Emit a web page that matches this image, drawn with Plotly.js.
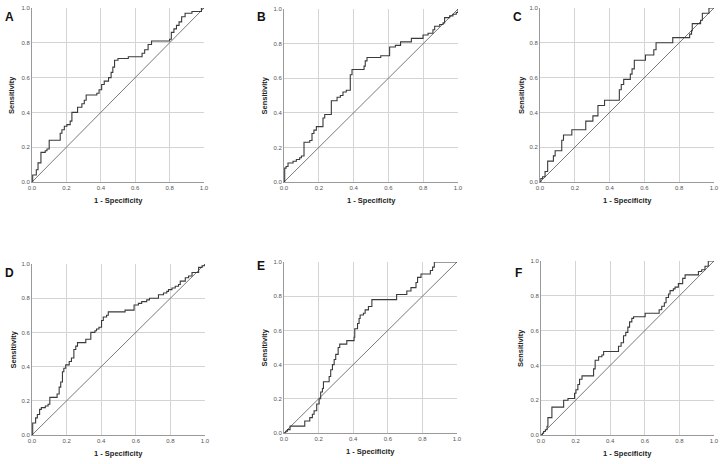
<!DOCTYPE html>
<html>
<head>
<meta charset="utf-8">
<script src="https://cdn.plot.ly/plotly-3.0.1.min.js"></script>
<style>html,body{margin:0;padding:0;background:#fff;}#chart{width:724px;height:464px;}</style>
</head>
<body>
<div id="chart"></div>
<script>
// ---- data (ROC staircase points: 1 - specificity, sensitivity) ----
const panelLabels = ["A", "B", "C", "D", "E", "F"];
const tickVals = [0, 0.2, 0.4, 0.6, 0.8, 1.0];
const tickText = ["0.0", "0.2", "0.4", "0.6", "0.8", "1.0"];
const diagonal = [0, 1];

const A_fpr = [0, 0.004, 0.025, 0.035, 0.052, 0.077, 0.087, 0.10, 0.164, 0.174, 0.188, 0.203, 0.222, 0.232, 0.265, 0.29, 0.304, 0.315, 0.377, 0.39, 0.405, 0.42, 0.445, 0.46, 0.47, 0.48, 0.50, 0.56, 0.64, 0.655, 0.675, 0.695, 0.80, 0.81, 0.825, 0.84, 0.855, 0.87, 0.89, 0.93, 0.985, 1];
const A_tpr = [0, 0.04, 0.07, 0.11, 0.17, 0.18, 0.19, 0.24, 0.28, 0.30, 0.32, 0.33, 0.35, 0.40, 0.43, 0.45, 0.47, 0.50, 0.51, 0.53, 0.56, 0.58, 0.60, 0.63, 0.66, 0.70, 0.71, 0.72, 0.74, 0.76, 0.79, 0.81, 0.82, 0.86, 0.88, 0.90, 0.92, 0.95, 0.97, 0.98, 1.0, 1.0];

const B_fpr = [0, 0.004, 0.012, 0.023, 0.052, 0.071, 0.09, 0.10, 0.115, 0.148, 0.161, 0.172, 0.186, 0.224, 0.234, 0.272, 0.305, 0.324, 0.339, 0.358, 0.381, 0.391, 0.46, 0.467, 0.477, 0.556, 0.607, 0.64, 0.67, 0.732, 0.799, 0.828, 0.856, 0.866, 0.895, 0.914, 0.923, 0.952, 0.971, 0.99, 1];
const B_tpr = [0, 0.08, 0.09, 0.11, 0.12, 0.13, 0.14, 0.15, 0.23, 0.24, 0.28, 0.30, 0.32, 0.37, 0.39, 0.47, 0.49, 0.50, 0.52, 0.53, 0.62, 0.65, 0.67, 0.70, 0.72, 0.73, 0.78, 0.79, 0.81, 0.83, 0.85, 0.86, 0.88, 0.90, 0.91, 0.92, 0.95, 0.96, 0.97, 0.98, 1.0];

const C_fpr = [0, 0.005, 0.015, 0.029, 0.044, 0.077, 0.087, 0.125, 0.135, 0.183, 0.263, 0.304, 0.333, 0.371, 0.456, 0.467, 0.481, 0.519, 0.529, 0.542, 0.606, 0.654, 0.667, 0.763, 0.86, 0.871, 0.875, 0.923, 0.933, 0.971, 1];
const C_tpr = [0, 0.02, 0.03, 0.06, 0.12, 0.15, 0.18, 0.24, 0.27, 0.30, 0.35, 0.38, 0.44, 0.47, 0.53, 0.56, 0.59, 0.62, 0.65, 0.70, 0.73, 0.76, 0.80, 0.83, 0.85, 0.87, 0.91, 0.93, 0.97, 1.0, 1.0];

const D_fpr = [0, 0.004, 0.021, 0.031, 0.044, 0.054, 0.077, 0.093, 0.103, 0.145, 0.157, 0.166, 0.176, 0.184, 0.195, 0.215, 0.228, 0.242, 0.253, 0.263, 0.311, 0.34, 0.364, 0.373, 0.387, 0.402, 0.412, 0.431, 0.441, 0.538, 0.59, 0.615, 0.634, 0.663, 0.679, 0.731, 0.76, 0.779, 0.789, 0.809, 0.828, 0.847, 0.857, 0.886, 0.905, 0.925, 0.963, 0.983, 1];
const D_tpr = [0, 0.07, 0.10, 0.12, 0.15, 0.16, 0.17, 0.18, 0.22, 0.24, 0.28, 0.31, 0.37, 0.39, 0.41, 0.43, 0.45, 0.50, 0.52, 0.54, 0.56, 0.60, 0.61, 0.62, 0.63, 0.67, 0.69, 0.70, 0.72, 0.73, 0.76, 0.77, 0.78, 0.79, 0.80, 0.82, 0.83, 0.84, 0.85, 0.86, 0.87, 0.88, 0.90, 0.92, 0.93, 0.95, 0.98, 0.99, 1.0];

const E_fpr = [0, 0.01, 0.02, 0.035, 0.116, 0.12, 0.149, 0.164, 0.174, 0.189, 0.203, 0.212, 0.222, 0.228, 0.261, 0.27, 0.28, 0.29, 0.299, 0.313, 0.322, 0.363, 0.405, 0.409, 0.425, 0.434, 0.44, 0.459, 0.469, 0.488, 0.508, 0.651, 0.71, 0.734, 0.763, 0.772, 0.792, 0.846, 0.859, 0.869, 1];
const E_tpr = [0, 0.01, 0.02, 0.04, 0.04, 0.07, 0.09, 0.11, 0.13, 0.17, 0.20, 0.24, 0.26, 0.30, 0.33, 0.37, 0.40, 0.43, 0.46, 0.50, 0.52, 0.54, 0.56, 0.61, 0.64, 0.67, 0.69, 0.70, 0.72, 0.74, 0.78, 0.81, 0.83, 0.85, 0.88, 0.91, 0.93, 0.95, 0.97, 1.0, 1.0];

const F_fpr = [0, 0.008, 0.015, 0.025, 0.035, 0.04, 0.063, 0.131, 0.156, 0.194, 0.202, 0.213, 0.223, 0.237, 0.304, 0.313, 0.333, 0.352, 0.362, 0.448, 0.463, 0.477, 0.49, 0.502, 0.512, 0.525, 0.535, 0.602, 0.683, 0.698, 0.713, 0.723, 0.737, 0.746, 0.765, 0.775, 0.794, 0.819, 0.833, 0.91, 0.929, 0.948, 0.967, 1];
const F_tpr = [0, 0.01, 0.02, 0.03, 0.05, 0.10, 0.16, 0.20, 0.21, 0.24, 0.26, 0.29, 0.32, 0.34, 0.38, 0.43, 0.45, 0.46, 0.48, 0.51, 0.53, 0.57, 0.59, 0.62, 0.65, 0.67, 0.68, 0.70, 0.72, 0.74, 0.76, 0.79, 0.81, 0.83, 0.84, 0.85, 0.87, 0.90, 0.92, 0.94, 0.95, 0.97, 1.0, 1.0];

const curves = [[A_fpr, A_tpr], [B_fpr, B_tpr], [C_fpr, C_tpr], [D_fpr, D_tpr], [E_fpr, E_tpr], [F_fpr, F_tpr]];

// ---- layout geometry (pixels in 724x464 figure) ----
const W = 724, H = 464;
const boxes = [
  {x0: 32, x1: 204, y0: 8, y1: 182, lx: 9, ly: 17, ytx: 11},
  {x0: 284, x1: 458, y0: 9, y1: 182, lx: 261, ly: 17, ytx: 264},
  {x0: 540, x1: 714, y0: 8, y1: 182, lx: 517, ly: 17, ytx: 521},
  {x0: 32, x1: 205, y0: 264, y1: 435, lx: 9, ly: 273, ytx: 13},
  {x0: 284, x1: 457, y0: 262, y1: 433, lx: 261, ly: 266, ytx: 264},
  {x0: 541, x1: 714, y0: 261, y1: 435, lx: 518, ly: 273, ytx: 520}
];

const FONT = "Liberation Sans, Arial, sans-serif";
const traces = [];
const layout = {
  width: W, height: H,
  margin: {l: 0, r: 0, t: 0, b: 0},
  paper_bgcolor: "#ffffff", plot_bgcolor: "#ffffff",
  showlegend: false,
  font: {family: FONT, color: "#333"},
  annotations: []
};

boxes.forEach((b, i) => {
  const n = i + 1;
  const xa = n === 1 ? "x" : "x" + n;
  const ya = n === 1 ? "y" : "y" + n;
  const xk = n === 1 ? "xaxis" : "xaxis" + n;
  const yk = n === 1 ? "yaxis" : "yaxis" + n;
  const axBase = {
    range: [0, 1], tickvals: tickVals, ticktext: tickText,
    showgrid: true, gridcolor: "#d4d4d4", gridwidth: 1,
    showline: true, linecolor: "#9a9a9a", linewidth: 1, mirror: false,
    zeroline: false, ticks: "", fixedrange: true,
    tickfont: {size: 6, color: "#555", family: FONT}
  };
  layout[xk] = Object.assign({}, axBase, {domain: [b.x0 / W, b.x1 / W], anchor: ya});
  layout[yk] = Object.assign({}, axBase, {domain: [1 - b.y1 / H, 1 - b.y0 / H], anchor: xa});

  traces.push({
    x: diagonal, y: diagonal, xaxis: xa, yaxis: ya, mode: "lines",
    line: {color: "#6a6a6a", width: 0.9}, hoverinfo: "skip", cliponaxis: false
  });
  traces.push({
    x: curves[i][0], y: curves[i][1], xaxis: xa, yaxis: ya, mode: "lines",
    line: {color: "#3a3a3a", width: 1.1, shape: "hv"}, cliponaxis: false
  });

  layout.annotations.push({
    xref: "paper", yref: "paper", x: b.lx / W, y: 1 - b.ly / H,
    text: "<b>" + panelLabels[i] + "</b>", showarrow: false,
    font: {size: 12, color: "#111", family: FONT}, xanchor: "center", yanchor: "middle"
  });
  layout.annotations.push({
    xref: "paper", yref: "paper", x: (b.x0 + b.x1) / 2 / W, y: 1 - (b.y1 + 18) / H,
    text: "<b>1 - Specificity</b>", showarrow: false,
    font: {size: 7.5, color: "#222", family: FONT}, xanchor: "center", yanchor: "middle"
  });
  layout.annotations.push({
    xref: "paper", yref: "paper", x: b.ytx / W, y: 1 - (b.y0 + b.y1) / 2 / H,
    text: "<b>Sensitivity</b>", showarrow: false, textangle: -90,
    font: {size: 7.5, color: "#222", family: FONT}, xanchor: "center", yanchor: "middle"
  });
});

Plotly.newPlot("chart", traces, layout, {displayModeBar: false, staticPlot: true});
</script>
</body>
</html>
